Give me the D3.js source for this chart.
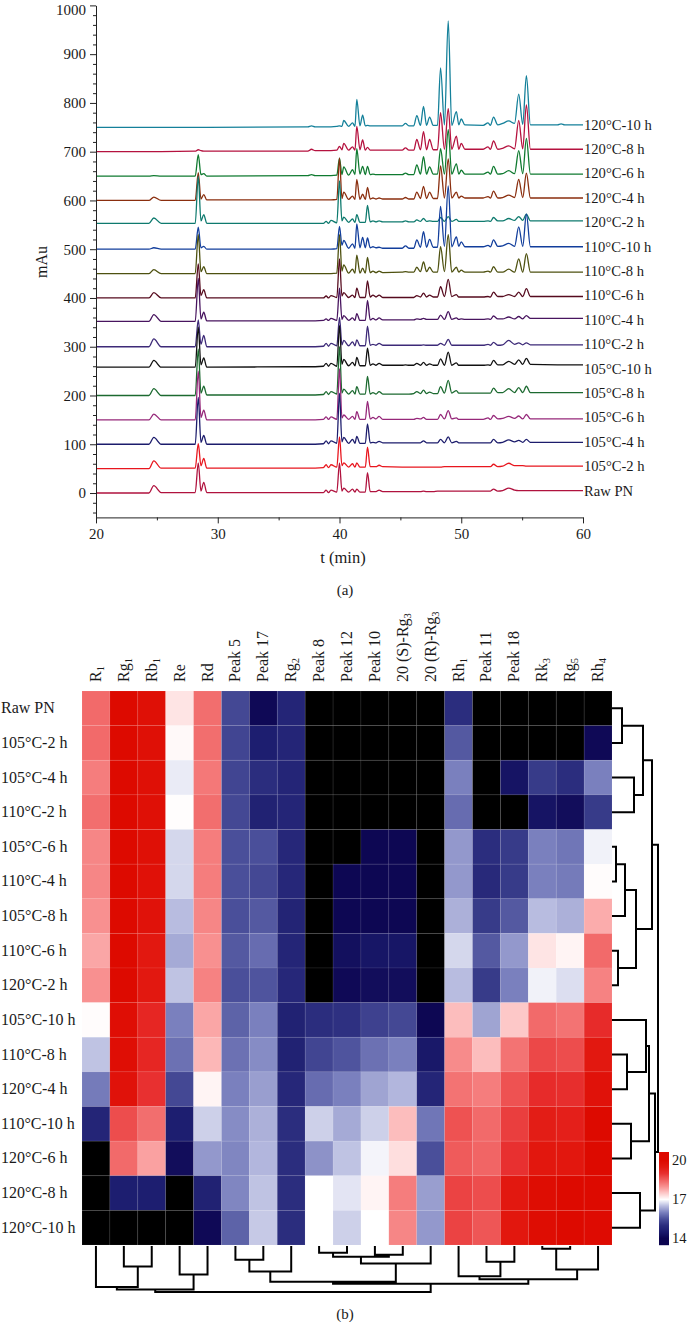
<!DOCTYPE html>
<html><head><meta charset="utf-8">
<script src="https://cdn.jsdelivr.net/npm/d3@7"></script>
<style>
html,body{margin:0;padding:0;background:#fff}
svg{display:block}
text{font-family:"Liberation Serif",serif;fill:#1a1a1a}
</style></head><body>
<script>
// ---------- chromatogram data ----------
const times=[20,24.35,24.75,25.35,28.15,28.4,28.62,28.85,29.1,
37.4,37.7,38,
38.68,38.9,39.1,39.3,39.78,40,40.2,40.35,40.75,41.07,41.27,41.42,41.68,41.9,42.12,42.3,42.52,42.75,43,43.25,43.55,
45.15,45.42,45.7,46.1,46.35,46.65,46.9,47.15,47.4,47.7,48.05,48.3,48.62,48.93,49.22,49.6,49.8,50,50.3,
51.8,52.2,52.4,52.65,53,53.4,53.9,54.38,54.72,55.05,55.35,55.68,57.9,58.2,58.5,60];
const traceNames=["Raw PN","105°C-2 h","105°C-4 h","105°C-6 h","105°C-8 h","105°C-10 h","110°C-2 h","110°C-4 h","110°C-6 h","110°C-8 h","110°C-10 h","120°C-2 h","120°C-4 h","120°C-6 h","120°C-8 h","120°C-10 h"];
const traceOffsets=[0,50,100,150,200,258,300,352,400,450,500,553,600,650,700,750];
const traceColors=["#b0123e","#e8161e","#1c1c6c","#96287a","#1c6a30","#111111","#3d2a78","#48145f","#560b1e","#4e5110","#123e9c","#0e7a6e","#8a2e0e","#0f7a30","#b5123f","#14809a"];
const tRaw=[0,0,15,1,1,62,4,22,1, 1,1,1,
1,6,1,6,2,62,4,10,2,8,2,8,2,2,2,42,3,3,3,6,3,
3,3,3,3,3,3,4,3,3,3,4,4,4,4,4,4,4,4,4,
4,4,4,8,4,5,10,6,5,5,5,5,5,5,5,5];
const t105h2=[0,0,16,1,1,51,6,21,1, 1,1,1,
2,8,2,8,3,65,6,12,3,10,3,12,3,3,3,44,4,4,4,7,4,
3,3,3,3,3,3,3,3,3,3,3,3,4,4,4,4,4,4,4,
4,4,4,9,4,5,11,6,6,6,5,5,5,5,5,5];
const t105h4=[0,0,14,0,0,96,4,18,0, 0,0,0,
1,7,1,7,2,105,5,14,2,10,2,16,2,2,2,42,3,4,3,6,3,
3,3,3,3,3,3,7,3,3,3,3,10,3,15,3,6,3,3,3,
3,3,3,10,3,4,9,5,8,4,10,4,4,4,4,4];
const t105h6=[0,0,12,0,0,100,5,20,0, 0,0,0,
1,6,1,6,1,105,4,10,1,7,1,17,1,1,1,38,2,5,2,7,1,
1,1,1,1,3,2,5,1,1,1,1,11,2,19,2,4,1,1,1,
1,4,1,9,2,3,7,3,8,2,11,2,2,2,2,2];
const t105h8=[0,0,14,0,0,95,5,19,1, 1,1,1,
2,8,2,8,3,100,5,13,3,10,3,18,3,3,3,39,3,6,3,8,3,
3,3,3,4,8,4,11,4,7,4,4,18,5,31,5,10,5,5,5,
5,5,5,15,6,6,14,6,16,6,19,6,6,6,6,6];
const t105h10=[0,0,14,0,0,82,5,19,0, 1,1,1,
2,8,2,8,2,85,6,16,3,10,3,20,3,3,3,39,4,7,4,8,4,
4,5,4,4,8,4,10,4,7,4,4,17,4,31,4,9,4,4,4,
4,5,4,14,5,5,12,6,15,6,18,6,5,5,5,5];
const t110h2=[0,0,16,0,0,55,5,23,0, 0,0,0,
1,7,1,7,2,60,4,13,2,10,2,14,2,2,2,42,3,5,3,7,3,
3,3,3,3,3,3,4,3,3,3,3,7,3,15,3,3,3,3,3,
3,5,3,9,3,4,13,5,8,4,8,4,4,4,4,4];
const t110h4=[0,0,14,0,0,88,5,19,1, 1,1,1,
2,5,2,6,2,68,4,12,2,7,2,16,2,2,2,43,3,6,3,7,3,
3,3,3,3,5,4,6,4,4,4,4,13,4,20,4,7,4,5,4,
4,5,4,11,5,5,9,5,10,5,12,6,6,6,6,6];
const t110h6=[0,0,11,0,0,70,5,17,0, 0,0,0,
0,4,0,5,1,80,4,11,1,6,1,20,1,1,1,35,2,6,2,6,1,
1,1,1,1,5,2,10,2,6,2,2,23,3,38,3,7,2,2,2,
2,3,2,12,3,3,7,3,12,3,19,3,3,3,3,3];
const t110h8=[0,0,8,0,0,80,4,14,0, 0,0,0,
0,0,0,0,1,80,5,18,1,9,1,38,1,11,1,33,2,5,2,5,2,
3,4,3,3,13,4,24,4,13,3,3,55,4,80,3,13,3,7,3,
3,5,3,14,3,3,9,3,30,3,41,3,3,3,3,3];
const t110h10=[0,0,3,0,0,45,3,6,0, 0,0,0,
0,0,0,0,1,47,8,18,2,11,2,52,3,24,3,23,3,5,3,4,2,
2,7,2,2,19,4,36,4,20,4,4,88,6,130,5,25,6,15,5,
5,8,5,19,6,7,12,6,46,6,72,5,5,5,5,5];
const t120h2=[0,0,11,0,0,97,5,18,0, 0,0,0,
0,4,0,6,1,87,5,13,2,9,2,18,2,2,2,37,3,5,3,5,3,
3,5,3,3,7,4,10,4,5,4,4,12,4,14,4,8,4,4,4,
4,5,4,12,5,5,10,6,14,6,19,5,5,5,5,5];
const t120h4=[0,0,7,0,0,57,3,12,1, 1,1,1,
1,1,1,1,2,87,4,17,2,9,2,43,2,13,2,27,3,5,3,5,3,
3,6,3,3,17,4,29,4,17,4,4,71,5,85,5,17,5,9,5,
5,8,5,19,5,6,11,6,43,6,56,5,5,5,5,5];
const t120h6=[0,0,1,0,0,44,3,5,0, 1,3,1,
1,1,1,1,2,37,3,19,2,13,3,56,4,20,3,20,3,4,3,3,3,
3,6,3,3,23,4,40,4,19,4,4,56,4,95,4,25,4,12,4,
4,8,4,20,4,5,11,5,52,5,77,4,4,4,4,4];
const t120h8=[0,0,0,0,1,4,2,1,1, 1,5,2,
2,2,2,2,3,11,4,17,3,10,3,52,4,24,3,9,3,3,3,3,3,
3,8,3,3,25,4,41,4,25,4,4,80,5,88,5,32,5,17,5,
5,10,5,22,5,7,12,6,64,6,96,5,5,5,5,5];
const t120h10=[0,0,0,0,0,0,0,0,0, 1,3,1,
1,1,1,1,2,3,2,14,2,9,2,57,3,25,3,4,3,3,3,3,3,
3,8,3,3,24,4,43,4,21,4,4,122,5,218,4,32,5,17,5,
4,9,4,21,5,8,13,8,68,6,106,5,5,7,5,5];
const traceValues=[tRaw,t105h2,t105h4,t105h6,t105h8,t105h10,t110h2,t110h4,t110h6,t110h8,t110h10,t120h2,t120h4,t120h6,t120h8,t120h10];
const yMajor=[0,100,200,300,400,500,600,700,800,900,1000];
const xMajor=[20,30,40,50,60];

// ---------- heat map data (null = not detected) ----------
const heatRows=["Raw PN","105°C-2 h","105°C-4 h","110°C-2 h","105°C-6 h","110°C-4 h","105°C-8 h","110°C-6 h","120°C-2 h","105°C-10 h","110°C-8 h","120°C-4 h","110°C-10 h","120°C-6 h","120°C-8 h","120°C-10 h"];
const heatCols=[["R","1"],["Rg","1"],["Rb","1"],["Re",""],["Rd",""],["Peak 5",""],["Peak 17",""],["Rg","2"],["Peak 8",""],["Peak 12",""],["Peak 10",""],["20 (S)-Rg","3"],["20 (R)-Rg","3"],["Rh","1"],["Peak 11",""],["Peak 18",""],["Rk","3"],["Rg","5"],["Rh","4"]];
const _=null;
const heatValues=[
[18.4,20,19.8,17.25,18.35,15.4,14.1,14.8,_,_,_,_,_,15,_,_,_,_,_],
[18.4,20,19.8,17.05,18.35,15.35,14.6,14.8,_,_,_,_,_,15.6,_,_,_,_,14.1],
[18.2,20,19.8,16.85,18.25,15.35,15,14.8,_,_,_,_,_,16,_,14.35,15.2,15,16],
[18.35,20,19.8,17.02,18.35,15.4,14.7,14.8,_,_,_,_,_,15.8,_,_,14.35,14.2,15.2],
[18.1,20,19.8,16.7,18.2,15.5,15.5,14.85,_,_,14.05,14.05,_,16.2,15,15.2,16,15.9,16.9],
[18.1,20,19.75,16.7,18.2,15.5,15.4,14.85,_,14.05,14.05,14.05,_,16.2,14.9,15.2,16,15.95,17.03],
[18,20,19.7,16.5,18.1,15.5,15.6,14.75,_,14.05,14.05,14.05,_,16.4,15.2,15.6,16.5,16.4,17.75],
[17.8,20,19.5,16.35,18,15.6,15.8,14.8,_,14.25,14.4,14.4,_,16.7,15.6,16.2,17.25,17.1,18.4],
[18,20,19.5,16.55,18.15,15.5,15.55,14.85,_,14.1,14.2,14.2,_,16.5,15.2,16,16.9,16.75,18.15],
[17.03,19.85,19.2,16,17.8,15.7,16,14.7,15,15.05,15.3,15.4,14.05,17.6,16.3,17.5,18.4,18.3,19.1],
[16.55,19.85,19.2,15.85,17.65,15.85,16.1,14.7,15.35,15.55,15.85,16,14.45,18.05,17.6,18.3,18.75,18.7,19.5],
[15.95,19.7,19,15.4,17.1,16,16.25,14.85,15.8,16,16.3,16.45,14.8,18.3,18.2,18.65,19.1,19.05,19.7],
[14.8,18.7,18.35,14.6,16.65,16.1,16.4,15,16.65,16.35,16.65,17.6,15.9,18.65,18.4,18.85,19.4,19.35,20],
[_,18.4,17.85,14.2,16.2,16.05,16.45,15,16.15,16.55,16.92,17.3,15.5,18.55,18.45,19,19.55,19.55,20],
[_,14.6,14.6,_,14.7,16.05,16.55,15,17,16.8,17.1,18.2,16.25,18.8,18.7,19.5,19.9,20,20],
[_,_,_,_,14.1,15.7,16.6,15,17,16.65,17,18.1,16.2,18.8,18.6,19.55,19.9,20,19.95]];
const legendTicks=[14,17,20];

// ---------- dendrograms: [childA, childB, distance]; ids above leaf count are earlier merges ----------
const rowMerges=[[0,1,10],[2,3,22],[16,17,31],[4,5,4],[19,6,13],[7,8,6],[20,21,24],[18,22,40],[10,11,15],[9,24,34],[12,13,19],[25,26,37],[14,15,28],[27,28,43],[23,29,46]];
const colMerges=[[1,2,21],[0,19,42],[3,4,29],[20,21,44.5],[5,6,14],[23,7,26],[8,9,7],[10,11,9],[25,26,11],[27,12,18],[24,28,36.5],[14,15,16],[13,30,31],[16,17,2.7],[32,18,24],[31,33,34],[29,34,38.5],[22,35,47]];

// ---------- drawing ----------
const W=687,H=1322;
const svg=d3.select("body").append("svg").attr("width",W).attr("height",H);

// panel (a)
const x=d3.scaleLinear().domain([20,60]).range([96,583]);
const y=d3.scaleLinear().domain([-50,1000]).range([517.4,5.4]);
const line=d3.line().x(d=>x(d[0])).y(d=>y(d[1])).curve(d3.curveMonotoneX);
const traceG=svg.append("g").attr("fill","none").attr("stroke-width",1.3).attr("stroke-linejoin","round");
d3.range(traceNames.length-1,-1,-1).forEach(i=>{
  const pts=times.map((t,k)=>[t,traceOffsets[i]+traceValues[i][k]]);
  traceG.append("path").attr("d",line(pts)).attr("stroke",traceColors[i]);
});
const axL=svg.append("g").attr("transform",`translate(${x(20)},0)`).call(d3.axisLeft(y).tickValues(yMajor).tickFormat(d3.format("d")).tickSize(6).tickSizeOuter(0).tickPadding(4));
svg.append("g").attr("transform",`translate(${x(20)},0)`).call(d3.axisLeft(y).tickValues(d3.range(-40,1000,20).filter(v=>v%100!==0)).tickSize(3).tickFormat(""))
  .select(".domain").remove();
const axB=svg.append("g").attr("transform",`translate(0,${y(-50)})`).call(d3.axisBottom(x).tickValues(xMajor).tickSize(6).tickSizeOuter(0).tickPadding(5));
svg.append("g").attr("transform",`translate(0,${y(-50)})`).call(d3.axisBottom(x).tickValues([25,35,45,55]).tickSize(3).tickFormat(""))
  .select(".domain").remove();
[axL,axB].forEach(a=>{a.selectAll("text").style("font-family",'"Liberation Serif",serif').style("font-size","15px").attr("fill","#1a1a1a");});
axL.selectAll(".tick").filter(d=>d===1000).select("text").attr("dy","0.62em");
svg.selectAll(".tick line, .domain").attr("stroke","#222").attr("stroke-width",1);
svg.append("text").attr("transform","translate(47,262) rotate(-90)").attr("text-anchor","middle").attr("font-size",16).text("mAu");
svg.append("text").attr("x",343).attr("y",563).attr("text-anchor","middle").attr("font-size",16.5).text("t (min)");
svg.append("text").attr("x",345).attr("y",595).attr("text-anchor","middle").attr("font-size",15).text("(a)");
const labelY=d3.scalePoint().domain(traceNames).range([491,125]);
svg.append("g").selectAll("text").data(traceNames).join("text")
  .attr("x",x(60)+1).attr("y",d=>labelY(d)+4.5).attr("font-size",14.6).text(d=>d);

// panel (b)
const cx=d3.scaleBand().domain(d3.range(heatCols.length)).range([82,612]);
const cy=d3.scaleBand().domain(heatRows).range([691,1245]);
const color=d3.scaleLinear().domain([14,14.5,15,15.5,16,16.5,17,17.5,18,18.5,19,19.5,20])
  .range(["#0c0550","#1a1a6c","#2b2d7e","#4a4f9a","#7a80be","#b8bce0","#ffffff","#fdc8c8","#f89090","#f06060","#e83030","#e21810","#dd0a00"]).clamp(true);
const cells=heatValues.flatMap((r,i)=>r.map((v,j)=>({r:heatRows[i],c:j,v})));
svg.append("g").selectAll("rect").data(cells).join("rect")
  .attr("x",d=>cx(d.c)).attr("y",d=>cy(d.r)).attr("width",cx.bandwidth()).attr("height",cy.bandwidth())
  .attr("fill",d=>d.v===null?"#000":color(d.v)).attr("stroke","#fff").attr("stroke-opacity",0.09).attr("stroke-width",0.8);
svg.append("g").selectAll("text").data(heatRows).join("text")
  .attr("x",1).attr("y",d=>cy(d)+cy.bandwidth()/2+5).attr("font-size",16).text(d=>d);
const colLab=svg.append("g").selectAll("text").data(heatCols).join("text")
  .attr("transform",(d,i)=>`translate(${cx(i)+cx.bandwidth()/2+5},682) rotate(-90)`).attr("font-size",16);
colLab.append("tspan").text(d=>d[0]);
colLab.append("tspan").attr("font-size",10.5).attr("dy",3).text(d=>d[1]);

// dendrogram helper
function dendro(merges,n,leafPos,distPos,horizontal){
  const pos=d3.range(n).map(leafPos), dist=d3.range(n).map(()=>0);
  const p=d3.path();
  merges.forEach(([a,b,h])=>{
    const da=distPos(dist[a]), db=distPos(dist[b]), dh=distPos(h);
    if(horizontal){p.moveTo(da,pos[a]);p.lineTo(dh,pos[a]);p.lineTo(dh,pos[b]);p.lineTo(db,pos[b]);}
    else{p.moveTo(pos[a],da);p.lineTo(pos[a],dh);p.lineTo(pos[b],dh);p.lineTo(pos[b],db);}
    pos.push((pos[a]+pos[b])/2); dist.push(h);
  });
  svg.append("path").attr("d",p.toString()).attr("fill","none").attr("stroke","#000").attr("stroke-width",2);
}
dendro(rowMerges,heatRows.length,i=>cy(heatRows[i])+cy.bandwidth()/2,d3.scaleLinear().domain([0,46]).range([612,658]),true);
dendro(colMerges,heatCols.length,i=>cx(i)+cx.bandwidth()/2,d3.scaleLinear().domain([0,47]).range([1246,1292]),false);

// colour key
const key=d3.scaleLinear().domain([14,20]).range([1238,1160]);
svg.append("g").selectAll("rect").data(d3.range(1152,1245)).join("rect")
  .attr("x",659).attr("width",10).attr("y",d=>d).attr("height",1.2)
  .attr("fill",d=>color(key.invert(d)));
svg.append("g").selectAll("text").data(legendTicks).join("text")
  .attr("x",672).attr("y",d=>key(d)+5).attr("font-size",14.5).text(d=>d);
svg.append("text").attr("x",345).attr("y",1319).attr("text-anchor","middle").attr("font-size",15).text("(b)");
</script>
</body></html>
